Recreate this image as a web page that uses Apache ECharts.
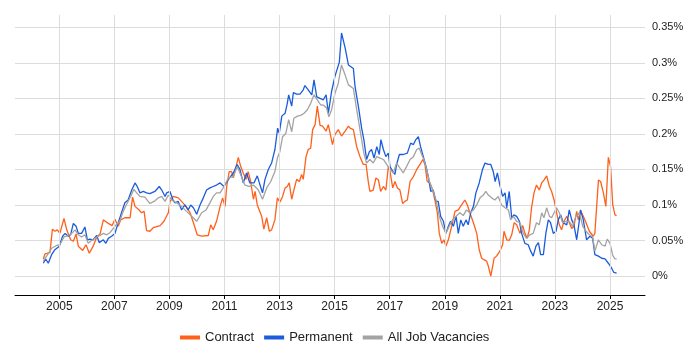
<!DOCTYPE html>
<html>
<head>
<meta charset="utf-8">
<title>Contract / Permanent / All Job Vacancies</title>
<script src="https://cdn.jsdelivr.net/npm/echarts@6/dist/echarts.min.js"></script>
<style>
  html, body { margin: 0; padding: 0; background: #fff; }
  #chart { width: 700px; height: 350px; }
</style>
</head>
<body>
<div id="chart"></div>
<script>
// share of job ads, in %, time as decimal year
const contractYears = [2004.42,2004.48,2004.66,2004.75,2004.84,2004.93,2005.02,2005.17,2005.27,2005.41,2005.51,2005.61,2005.69,2005.85,2005.97,2006.09,2006.23,2006.36,2006.48,2006.60,2006.78,2006.92,2007.02,2007.14,2007.23,2007.38,2007.57,2007.66,2007.75,2007.87,2007.99,2008.08,2008.17,2008.29,2008.41,2008.66,2008.80,2008.96,2009.02,2009.14,2009.32,2009.44,2009.60,2009.75,2009.87,2010.01,2010.17,2010.41,2010.50,2010.59,2010.71,2010.84,2010.93,2011.02,2011.08,2011.17,2011.26,2011.32,2011.42,2011.50,2011.59,2011.68,2011.78,2011.86,2011.95,2012.05,2012.11,2012.19,2012.26,2012.35,2012.43,2012.53,2012.63,2012.71,2012.83,2012.92,2013.01,2013.11,2013.20,2013.28,2013.35,2013.44,2013.52,2013.62,2013.72,2013.80,2013.86,2013.96,2014.04,2014.13,2014.20,2014.29,2014.37,2014.47,2014.56,2014.69,2014.77,2014.92,2015.01,2015.13,2015.25,2015.38,2015.50,2015.56,2015.68,2015.80,2015.92,2016.04,2016.14,2016.22,2016.28,2016.40,2016.50,2016.59,2016.67,2016.77,2016.86,2016.95,2017.01,2017.11,2017.19,2017.28,2017.37,2017.47,2017.55,2017.64,2017.74,2017.86,2017.98,2018.10,2018.20,2018.28,2018.36,2018.46,2018.56,2018.64,2018.73,2018.80,2018.89,2018.97,2019.04,2019.13,2019.25,2019.37,2019.49,2019.61,2019.73,2019.82,2019.91,2020.04,2020.16,2020.25,2020.34,2020.42,2020.52,2020.58,2020.67,2020.74,2020.79,2020.88,2021.00,2021.10,2021.15,2021.25,2021.34,2021.43,2021.52,2021.61,2021.73,2021.83,2021.91,2021.99,2022.07,2022.15,2022.24,2022.33,2022.43,2022.52,2022.60,2022.70,2022.80,2022.88,2022.97,2023.06,2023.16,2023.24,2023.33,2023.43,2023.52,2023.61,2023.69,2023.79,2023.85,2023.93,2024.03,2024.13,2024.25,2024.39,2024.45,2024.58,2024.66,2024.76,2024.85,2024.94,2025.02,2025.10,2025.18,2025.24];
const contractValues = [0.024,0.031,0.033,0.066,0.063,0.065,0.060,0.081,0.065,0.051,0.049,0.059,0.042,0.036,0.044,0.032,0.042,0.055,0.059,0.079,0.074,0.071,0.080,0.070,0.079,0.082,0.082,0.111,0.098,0.094,0.089,0.091,0.064,0.063,0.068,0.071,0.077,0.089,0.105,0.112,0.110,0.105,0.098,0.089,0.075,0.058,0.056,0.057,0.072,0.065,0.077,0.098,0.110,0.098,0.126,0.147,0.147,0.138,0.154,0.167,0.154,0.145,0.136,0.147,0.133,0.108,0.119,0.100,0.099,0.084,0.066,0.082,0.063,0.065,0.079,0.110,0.104,0.112,0.124,0.126,0.131,0.108,0.121,0.136,0.133,0.143,0.136,0.168,0.178,0.180,0.206,0.213,0.239,0.212,0.211,0.204,0.213,0.185,0.199,0.206,0.197,0.204,0.211,0.208,0.206,0.182,0.168,0.157,0.157,0.133,0.119,0.121,0.138,0.135,0.119,0.126,0.121,0.154,0.147,0.124,0.133,0.124,0.121,0.102,0.105,0.107,0.133,0.140,0.150,0.157,0.164,0.157,0.133,0.131,0.121,0.107,0.089,0.060,0.046,0.051,0.042,0.051,0.070,0.091,0.093,0.100,0.107,0.100,0.089,0.075,0.060,0.037,0.025,0.023,0.021,0.014,0.000,0.014,0.025,0.028,0.035,0.044,0.063,0.051,0.050,0.058,0.075,0.072,0.060,0.071,0.060,0.053,0.065,0.096,0.117,0.128,0.121,0.131,0.135,0.141,0.126,0.119,0.107,0.089,0.072,0.065,0.077,0.084,0.075,0.067,0.070,0.091,0.079,0.092,0.084,0.075,0.063,0.056,0.060,0.135,0.133,0.117,0.098,0.167,0.154,0.100,0.086,0.085];

const permanentYears = [2004.42,2004.50,2004.60,2004.72,2004.84,2005.00,2005.12,2005.21,2005.33,2005.41,2005.51,2005.61,2005.69,2005.81,2005.93,2006.02,2006.11,2006.23,2006.36,2006.45,2006.60,2006.69,2006.78,2006.90,2007.02,2007.14,2007.26,2007.38,2007.50,2007.63,2007.75,2007.83,2007.93,2008.05,2008.17,2008.29,2008.47,2008.63,2008.72,2008.84,2008.90,2009.02,2009.12,2009.20,2009.32,2009.44,2009.56,2009.68,2009.77,2009.87,2009.99,2010.11,2010.23,2010.35,2010.47,2010.59,2010.71,2010.84,2010.98,2011.14,2011.32,2011.46,2011.56,2011.68,2011.80,2011.92,2012.07,2012.19,2012.29,2012.38,2012.47,2012.59,2012.71,2012.83,2012.93,2012.99,2013.08,2013.20,2013.28,2013.33,2013.44,2013.50,2013.62,2013.74,2013.86,2013.92,2014.04,2014.17,2014.25,2014.35,2014.47,2014.59,2014.69,2014.77,2014.89,2015.01,2015.17,2015.25,2015.38,2015.50,2015.56,2015.68,2015.74,2015.86,2015.98,2016.06,2016.16,2016.26,2016.34,2016.43,2016.53,2016.62,2016.68,2016.77,2016.86,2016.95,2017.01,2017.11,2017.19,2017.25,2017.35,2017.49,2017.64,2017.76,2017.86,2017.95,2018.04,2018.12,2018.22,2018.32,2018.40,2018.49,2018.58,2018.68,2018.76,2018.85,2018.95,2019.04,2019.13,2019.21,2019.31,2019.41,2019.49,2019.58,2019.67,2019.77,2019.85,2019.94,2020.04,2020.13,2020.25,2020.37,2020.46,2020.58,2020.67,2020.76,2020.83,2020.91,2021.00,2021.10,2021.19,2021.25,2021.34,2021.43,2021.51,2021.61,2021.71,2021.79,2021.91,2022.03,2022.12,2022.21,2022.31,2022.40,2022.48,2022.58,2022.67,2022.76,2022.84,2022.94,2023.04,2023.12,2023.21,2023.30,2023.43,2023.52,2023.61,2023.69,2023.79,2023.89,2023.93,2024.03,2024.15,2024.27,2024.37,2024.45,2024.58,2024.70,2024.82,2024.94,2025.06,2025.14,2025.24];
const permanentValues = [0.018,0.024,0.018,0.030,0.037,0.042,0.056,0.060,0.056,0.058,0.074,0.070,0.060,0.060,0.069,0.051,0.052,0.051,0.057,0.047,0.051,0.046,0.053,0.056,0.060,0.075,0.089,0.103,0.107,0.121,0.131,0.126,0.117,0.119,0.117,0.116,0.119,0.126,0.121,0.112,0.117,0.119,0.108,0.103,0.105,0.093,0.100,0.093,0.100,0.096,0.087,0.100,0.110,0.121,0.124,0.126,0.128,0.131,0.126,0.136,0.145,0.157,0.150,0.131,0.145,0.131,0.131,0.141,0.128,0.117,0.136,0.150,0.159,0.178,0.208,0.201,0.225,0.229,0.243,0.255,0.239,0.258,0.256,0.256,0.262,0.268,0.262,0.255,0.276,0.252,0.250,0.248,0.255,0.229,0.260,0.281,0.301,0.342,0.321,0.297,0.295,0.292,0.267,0.239,0.208,0.192,0.164,0.175,0.178,0.166,0.182,0.171,0.192,0.178,0.168,0.173,0.154,0.147,0.143,0.157,0.171,0.171,0.173,0.187,0.185,0.192,0.196,0.182,0.168,0.154,0.140,0.119,0.121,0.105,0.105,0.084,0.077,0.060,0.070,0.077,0.070,0.084,0.060,0.079,0.070,0.079,0.072,0.089,0.098,0.117,0.131,0.150,0.159,0.157,0.157,0.147,0.133,0.145,0.128,0.112,0.117,0.096,0.119,0.082,0.086,0.084,0.077,0.060,0.046,0.044,0.035,0.028,0.042,0.047,0.030,0.030,0.060,0.079,0.075,0.060,0.063,0.079,0.086,0.075,0.072,0.093,0.079,0.072,0.051,0.079,0.093,0.079,0.051,0.056,0.053,0.030,0.028,0.025,0.024,0.018,0.011,0.005,0.004];

const allYears = [2004.42,2004.54,2004.72,2004.90,2005.02,2005.17,2005.33,2005.45,2005.57,2005.69,2005.81,2005.93,2006.05,2006.17,2006.36,2006.48,2006.60,2006.72,2006.84,2007.02,2007.20,2007.32,2007.47,2007.59,2007.71,2007.81,2007.93,2008.11,2008.29,2008.44,2008.60,2008.72,2008.84,2008.96,2009.08,2009.26,2009.44,2009.62,2009.81,2009.99,2010.17,2010.33,2010.47,2010.59,2010.71,2010.84,2010.98,2011.14,2011.32,2011.46,2011.59,2011.74,2011.90,2012.05,2012.23,2012.38,2012.53,2012.68,2012.83,2012.92,2013.01,2013.11,2013.23,2013.33,2013.44,2013.52,2013.65,2013.77,2013.89,2014.01,2014.13,2014.25,2014.37,2014.49,2014.61,2014.71,2014.79,2014.89,2015.01,2015.13,2015.25,2015.38,2015.50,2015.56,2015.68,2015.80,2015.94,2016.06,2016.16,2016.28,2016.40,2016.53,2016.65,2016.77,2016.89,2017.01,2017.13,2017.25,2017.37,2017.49,2017.61,2017.74,2017.86,2017.98,2018.07,2018.16,2018.24,2018.34,2018.44,2018.56,2018.68,2018.80,2018.92,2019.04,2019.16,2019.28,2019.41,2019.55,2019.67,2019.79,2019.91,2020.04,2020.16,2020.28,2020.40,2020.49,2020.58,2020.70,2020.82,2020.94,2021.06,2021.19,2021.31,2021.39,2021.49,2021.61,2021.73,2021.85,2021.97,2022.09,2022.21,2022.33,2022.43,2022.52,2022.60,2022.70,2022.80,2022.88,2022.97,2023.06,2023.16,2023.28,2023.40,2023.52,2023.64,2023.76,2023.89,2024.01,2024.13,2024.25,2024.37,2024.45,2024.58,2024.70,2024.82,2024.90,2025.00,2025.10,2025.18,2025.24];
const allValues = [0.021,0.028,0.039,0.043,0.044,0.055,0.057,0.060,0.065,0.058,0.055,0.058,0.046,0.050,0.055,0.057,0.060,0.058,0.061,0.070,0.077,0.091,0.103,0.112,0.122,0.117,0.112,0.111,0.102,0.105,0.110,0.112,0.105,0.114,0.107,0.103,0.098,0.091,0.084,0.077,0.089,0.093,0.103,0.112,0.117,0.117,0.126,0.138,0.140,0.154,0.142,0.128,0.126,0.128,0.121,0.108,0.124,0.133,0.147,0.166,0.175,0.196,0.201,0.220,0.203,0.222,0.225,0.226,0.229,0.234,0.243,0.255,0.248,0.241,0.240,0.236,0.224,0.234,0.257,0.271,0.297,0.283,0.269,0.267,0.264,0.234,0.201,0.173,0.159,0.164,0.159,0.168,0.166,0.164,0.157,0.150,0.145,0.159,0.152,0.145,0.154,0.164,0.168,0.178,0.180,0.171,0.164,0.150,0.133,0.121,0.107,0.084,0.070,0.060,0.070,0.079,0.084,0.089,0.085,0.093,0.089,0.093,0.100,0.110,0.114,0.119,0.114,0.110,0.107,0.112,0.100,0.096,0.093,0.079,0.084,0.077,0.075,0.060,0.053,0.058,0.060,0.075,0.072,0.089,0.082,0.096,0.084,0.082,0.089,0.096,0.089,0.075,0.077,0.077,0.070,0.084,0.089,0.070,0.063,0.058,0.055,0.035,0.051,0.044,0.042,0.052,0.046,0.029,0.024,0.024];

const yearTicks = [2005, 2007, 2009, 2011, 2013, 2015, 2017, 2019, 2021, 2023, 2025];
const percentTicks = [0, 0.05, 0.1, 0.15, 0.2, 0.25, 0.3, 0.35];

const toPairs = (xs, ys) => xs.map((x, i) => [x, ys[i]]);

const fontFamily = '"Liberation Sans", Arial, sans-serif';
const gridColor = '#dcdcdc';

function lineSeries(name, color, xs, ys) {
  return {
    name: name,
    type: 'line',
    showSymbol: false,
    color: color,
    lineStyle: { color: color, width: 1.3 },
    data: toPairs(xs, ys)
  };
}

const chart = echarts.init(document.getElementById('chart'));
chart.setOption({
  animation: false,
  grid: { left: 15, right: 55, top: 15, bottom: 55 },
  legend: {
    left: 175,
    top: 326,
    icon: 'rect',
    itemWidth: 20,
    itemHeight: 4,
    itemGap: 10,
    textStyle: { fontSize: 13, color: '#222', fontFamily: fontFamily },
    data: ['Contract', 'Permanent', 'All Job Vacancies']
  },
  xAxis: {
    type: 'value',
    min: 2003.391,
    max: 2026.271,
    axisLine: { show: true, onZero: false, lineStyle: { color: '#000' } },
    axisTick: { show: true, length: 4, lineStyle: { color: '#000' }, customValues: yearTicks },
    axisLabel: {
      color: '#222',
      fontSize: 12,
      margin: 6,
      fontFamily: fontFamily,
      customValues: yearTicks,
      formatter: v => String(Math.round(v))
    },
    splitLine: { show: false }
  },
  yAxis: {
    type: 'value',
    position: 'right',
    min: -0.0267,
    max: 0.3673,
    minInterval: 0.05,
    maxInterval: 0.05,
    axisLine: { show: false, onZero: false },
    axisTick: { show: false },
    axisLabel: {
      color: '#222',
      fontSize: 11,
      margin: 7,
      fontFamily: fontFamily,
      customValues: percentTicks,
      formatter: v => (+v.toFixed(2)) + '%'
    },
    splitLine: { show: true, showMinLine: false, showMaxLine: false, lineStyle: { color: gridColor } }
  },
  series: [
    {
      // vertical grid lines at the labelled years
      name: 'yearGrid',
      type: 'line',
      data: [],
      markLine: {
        silent: true,
        symbol: ['none', 'none'],
        label: { show: false },
        lineStyle: { color: gridColor, width: 1, type: 'solid' },
        data: yearTicks.map(y => ({ xAxis: y }))
      }
    },
    lineSeries('Contract', '#ff601a', contractYears, contractValues),
    lineSeries('Permanent', '#1a5cdc', permanentYears, permanentValues),
    lineSeries('All Job Vacancies', '#a3a3a3', allYears, allValues)
  ]
});
</script>
</body>
</html>
